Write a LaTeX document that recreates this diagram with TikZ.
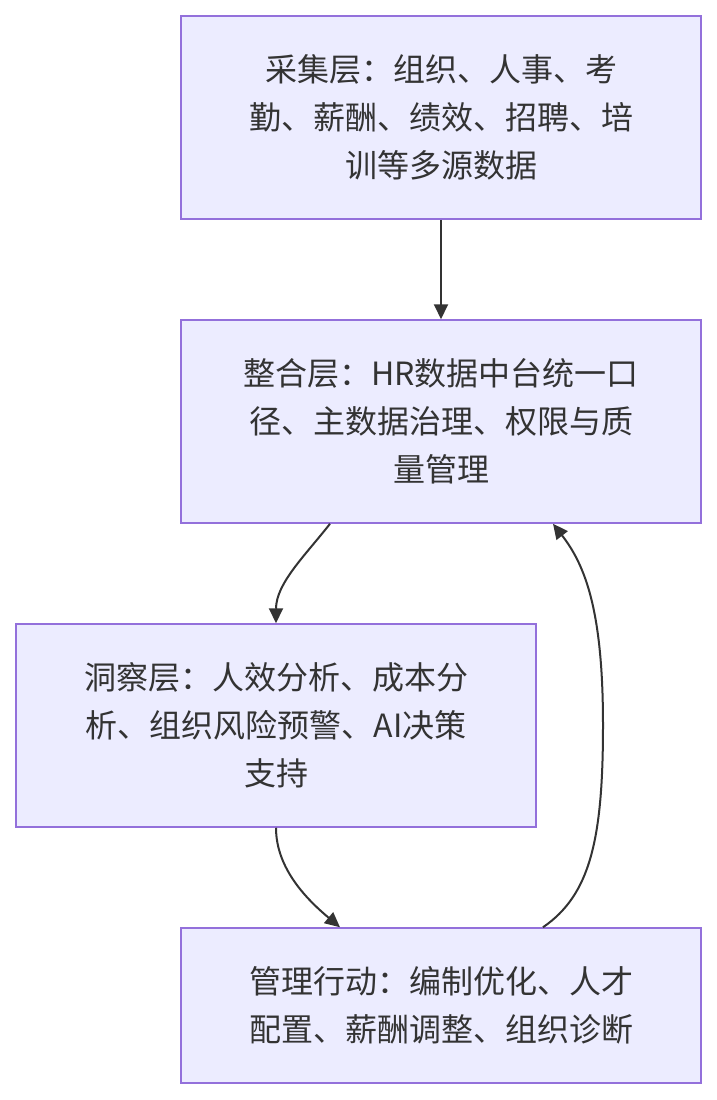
\documentclass[tikz,border=0pt]{standalone}
\usepackage{fontspec}
\usepackage{tikz}
\usetikzlibrary{arrows.meta}
\newfontfamily\cjk{Noto Sans CJK SC}
\definecolor{boxfill}{HTML}{ECECFF}
\definecolor{boxline}{HTML}{9370DB}
\definecolor{ink}{HTML}{333333}

\begin{document}
\begin{tikzpicture}[x=1pt, y=-1pt,
        layer/.style={draw=boxline, fill=boxfill, line width=1.5pt,
            minimum width=520pt, text=ink, align=center,
            font=\cjk\fontsize{32}{48}\selectfont},
        flow/.style={draw=ink, line width=2pt,
            -{Triangle[length=15pt, width=14pt]}}]
        \useasboundingbox (0,0) rectangle (717,1100);

        % Four layers
        \node[layer, minimum height=203pt] (collect) at (441,117.5)
            {采集层：组织、人事、考\\勤、薪酬、绩效、招聘、培\\训等多源数据};
        \node[layer, minimum height=203pt] (integrate) at (441,421.5)
            {整合层：HR数据中台统一口\\径、主数据治理、权限与质\\量管理};
        \node[layer, minimum height=203pt] (insight) at (276,725.5)
            {洞察层：人效分析、成本分\\析、组织风险预警、AI决策\\支持};
        \node[layer, minimum height=155pt] (action) at (441,1005.5)
            {管理行动：编制优化、人才\\配置、薪酬调整、组织诊断};

        % Straight down from collection to integration
        \draw[flow] (collect.south) -- (integrate.north);

        % Integration down to insight
        \draw[flow] ([xshift=-111pt]integrate.south)
            to[out=-128, in=90, looseness=0.9] (insight.north);

        % Insight down to action
        \draw[flow] (insight.south)
            to[out=-90, in=140, looseness=0.9] ([xshift=-101pt]action.north);

        % Feedback from action back up to integration
        \draw[flow] ([xshift=102pt]action.north)
            .. controls (590,895) and (603,840) .. (603,725)
            .. controls (603,610) and (585,565) .. ([xshift=112pt]integrate.south);
\end{tikzpicture}
\end{document}
